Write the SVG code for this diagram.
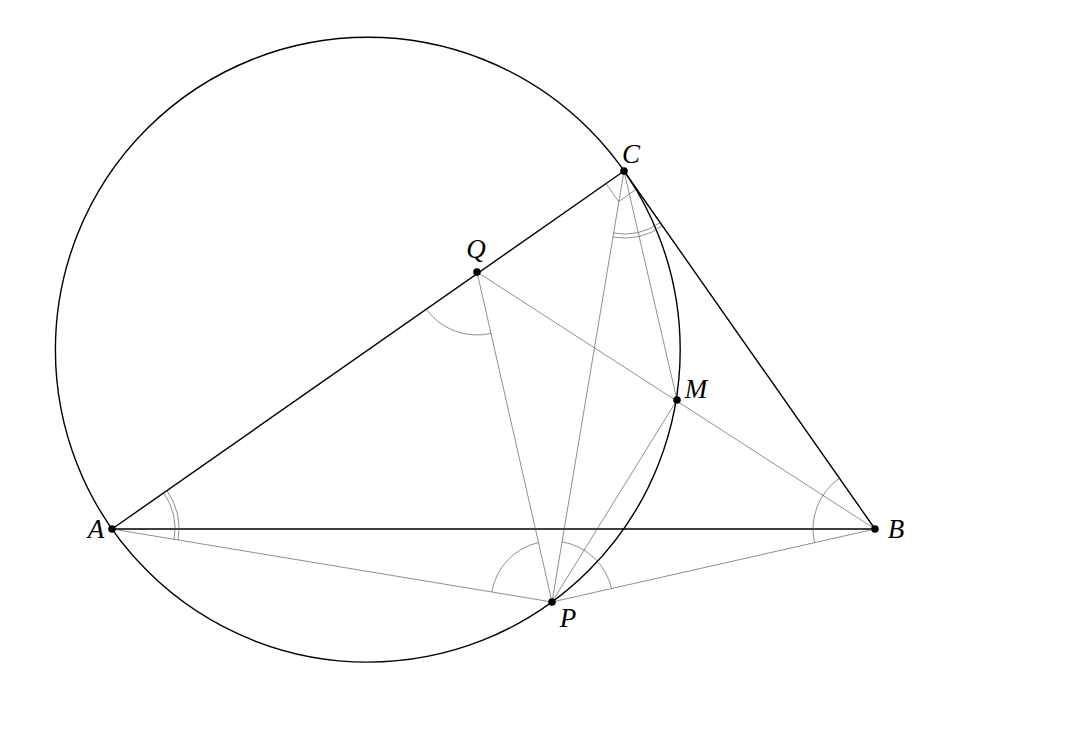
<svg xmlns="http://www.w3.org/2000/svg" width="1080" height="735" viewBox="0 0 1080 735">
<style>
.thick{stroke:#000;stroke-width:1.4;fill:none;stroke-linecap:round}
.thin{stroke:#444;stroke-width:0.6;fill:none}
.mark{stroke:#444;stroke-width:0.6;fill:none}
.lbl{font-family:"Liberation Serif","Times New Roman",serif;font-style:italic;font-size:27px;fill:#000}
.dot{fill:#000}
</style>
<rect width="1080" height="735" fill="#fff"/>
<g id="connectors">
<circle class="thick" cx="367.8" cy="349.7" r="312.4"/>
<line class="thick" x1="112" y1="529" x2="875" y2="529"/>
<line class="thick" x1="112" y1="529" x2="624" y2="171"/>
<line class="thick" x1="624" y1="171" x2="875" y2="529"/>
<line class="thin" x1="112" y1="529" x2="552" y2="602"/>
<line class="thin" x1="552" y1="602" x2="875" y2="529"/>
<line class="thin" x1="477" y1="272" x2="875" y2="529"/>
<line class="thin" x1="477" y1="272" x2="552" y2="602"/>
<line class="thin" x1="624" y1="171" x2="552" y2="602"/>
<line class="thin" x1="624" y1="171" x2="677" y2="400"/>
<line class="thin" x1="552" y1="602" x2="677" y2="400"/>
</g>
<g id="angle-marks">
<path class="mark" d="M163.63,492.90 A63,63 0 0 1 174.15,539.31"/>
<path class="mark" d="M166.91,490.60 A67,67 0 0 1 178.10,539.97"/>
<path class="mark" d="M613.62,233.14 A63,63 0 0 0 660.17,222.58"/>
<path class="mark" d="M612.96,237.08 A67,67 0 0 0 662.46,225.86"/>
<path class="mark" d="M425.49,308.27 A63,63 0 0 0 490.96,333.44"/>
<path class="mark" d="M839.41,478.23 A62,62 0 0 0 814.52,542.67"/>
<path class="mark" d="M491.82,592.01 A61,61 0 0 1 538.48,542.51"/>
<path class="mark" d="M562.05,541.84 A61,61 0 0 1 611.51,588.55"/>
<path class="mark" d="M606,183.6 L618.6,201.6 L636.6,189"/>
</g>
<g id="node-A"><circle class="dot" cx="112" cy="529" r="3.8"/><text class="lbl" x="96" y="538" text-anchor="middle">A</text></g>
<g id="node-B"><circle class="dot" cx="875" cy="529" r="3.8"/><text class="lbl" x="896" y="538" text-anchor="middle">B</text></g>
<g id="node-C"><circle class="dot" cx="624" cy="171" r="3.8"/><text class="lbl" x="631" y="163" text-anchor="middle">C</text></g>
<g id="node-Q"><circle class="dot" cx="477" cy="272" r="3.8"/><text class="lbl" x="476" y="258" text-anchor="middle">Q</text></g>
<g id="node-M"><circle class="dot" cx="677" cy="400" r="3.8"/><text class="lbl" x="696" y="398" text-anchor="middle">M</text></g>
<g id="node-P"><circle class="dot" cx="552" cy="602" r="3.8"/><text class="lbl" x="568" y="627" text-anchor="middle">P</text></g>
</svg>
